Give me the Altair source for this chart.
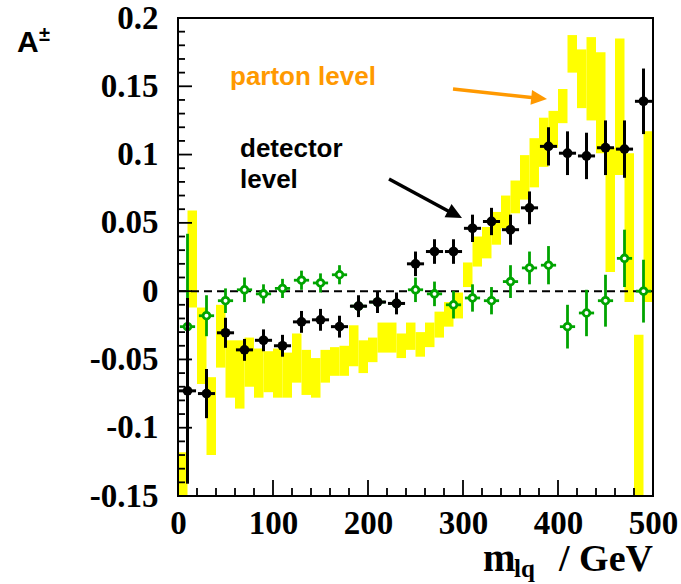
import altair as alt
import pandas as pd

# ---- reconstructed asymmetry per 20 GeV bin of m_lq ----
m_centres = [10, 30, 50, 70, 90, 110, 130, 150, 170, 190, 210, 230, 250,
             270, 290, 310, 330, 350, 370, 390, 410, 430, 450, 470, 490]

det_A = [-0.073, -0.075, -0.0305, -0.043, -0.036, -0.040, -0.0225, -0.021, -0.026,
         -0.011, -0.008, -0.009, 0.020, 0.029, 0.029, 0.046, 0.051, 0.045, 0.061,
         0.106, 0.101, 0.099, 0.105, 0.104, 0.139]
det_err = [0.068, 0.018, 0.011, 0.008, 0.008, 0.008, 0.008, 0.008, 0.008, 0.008,
           0.008, 0.008, 0.009, 0.009, 0.009, 0.010, 0.010, 0.011, 0.012, 0.014,
           0.016, 0.017, 0.020, 0.021, 0.024]

green_A = [-0.026, -0.018, -0.007, 0.001, -0.002, 0.002, 0.008, 0.006, 0.012,
           -0.011, -0.008, -0.009, 0.001, -0.002, -0.010, -0.005, -0.007, 0.007,
           0.017, 0.019, -0.026, -0.016, -0.007, 0.024, 0.000]
green_err = [0.068, 0.015, 0.009, 0.009, 0.007, 0.007, 0.007, 0.007, 0.007, 0.007,
             0.007, 0.007, 0.009, 0.009, 0.010, 0.010, 0.010, 0.012, 0.012, 0.014,
             0.016, 0.017, 0.019, 0.021, 0.023]

# ---- parton-level band, 10 GeV bins (lower / upper edge of the band) ----
parton_edges = list(range(0, 510, 10))
parton_lo = [-0.16, -0.012, -0.068, -0.120, -0.056, -0.078, -0.086, -0.070, -0.078, -0.074,
             -0.078, -0.078, -0.067, -0.076, -0.078, -0.067, -0.062, -0.062, -0.055, -0.060,
             -0.052, -0.045, -0.045, -0.049, -0.043, -0.048, -0.041, -0.034, -0.026, -0.020,
             0.003, 0.018, 0.024, 0.034, 0.046, 0.057, 0.067, 0.076, 0.091, 0.105,
             0.123, 0.160, 0.134, 0.125, 0.101, 0.014, 0.085, -0.008, -0.16, -0.008]
parton_hi = [-0.118, 0.059, -0.012, -0.063, -0.010, -0.036, -0.036, -0.034, -0.042, -0.044,
             -0.042, -0.045, -0.031, -0.043, -0.049, -0.043, -0.041, -0.040, -0.025, -0.036,
             -0.034, -0.023, -0.023, -0.031, -0.023, -0.030, -0.023, -0.015, -0.008, -0.001,
             0.021, 0.040, 0.047, 0.058, 0.070, 0.081, 0.0996, 0.112, 0.127, 0.132,
             0.148, 0.1875, 0.177, 0.186, 0.175, 0.105, 0.185, 0.101, -0.032, 0.117]

# ---- axis ticks ----
x_labels = [0, 100, 200, 300, 400, 500]
x_minor = [v for v in range(0, 501, 20) if v % 100 != 0]
y_labels = [-0.15, -0.1, -0.05, 0, 0.05, 0.1, 0.15, 0.2]
y_minor = [round(i * 0.01, 2) for i in range(-15, 21) if i % 5 != 0]

W, H = 475, 478
GREEN = "#00A400"
ORANGE = "#FF9900"
SERIF = "Liberation Serif"
SANS = "Liberation Sans"

xs = alt.Scale(domain=[0, 500], nice=False, zero=False)
ys = alt.Scale(domain=[-0.15, 0.2], nice=False, zero=False)

band_df = pd.DataFrame({
    "x0": parton_edges[:-1], "x1": parton_edges[1:],
    "lo": parton_lo, "hi": parton_hi,
})


def point_table(values, errors, half):
    return pd.DataFrame({
        "m": m_centres, "A": values,
        "lo": [a - e for a, e in zip(values, errors)],
        "hi": [a + e for a, e in zip(values, errors)],
        "ml": [m - half for m in m_centres], "mr": [m + half for m in m_centres],
    })


det_df = point_table(det_A, det_err, 9)
grn_df = point_table(green_A, green_err, 8)

x_axis = alt.Axis(values=x_labels, ticks=False, domain=False, grid=False,
                  labelFont=SERIF, labelFontWeight="bold", labelFontSize=33,
                  labelColor="black", labelPadding=11, labelFlush=False,
                  labelOverlap=False, title=None)
y_axis = alt.Axis(values=y_labels, ticks=False, domain=False, grid=False,
                  labelFont=SERIF, labelFontWeight="bold", labelFontSize=33,
                  labelColor="black", labelPadding=20, labelOverlap=False,
                  labelExpr="toString(datum.value)", title=None)

band = alt.Chart(band_df).mark_rect(color="#FFFF00", clip=True).encode(
    x=alt.X("x0:Q", scale=xs, axis=x_axis), x2="x1",
    y=alt.Y("lo:Q", scale=ys, axis=y_axis), y2="hi",
)

zero = alt.Chart(pd.DataFrame({"a": [0], "b": [500], "z": [0]})).mark_rule(
    color="black", strokeWidth=2, strokeDash=[8, 5]
).encode(x=alt.X("a:Q", scale=xs), x2="b", y=alt.Y("z:Q", scale=ys))


def points(df, color, marker, lw):
    vbar = alt.Chart(df).mark_rule(color=color, strokeWidth=lw, clip=True).encode(
        x=alt.X("m:Q", scale=xs), y=alt.Y("lo:Q", scale=ys), y2="hi")
    hbar = alt.Chart(df).mark_rule(color=color, strokeWidth=lw).encode(
        x=alt.X("ml:Q", scale=xs), x2="mr", y=alt.Y("A:Q", scale=ys))
    dot = alt.Chart(df).mark_point(**marker).encode(
        x=alt.X("m:Q", scale=xs), y=alt.Y("A:Q", scale=ys))
    return [vbar, hbar, dot]


green_layers = points(grn_df, GREEN, dict(shape="circle", filled=True, fill="white",
                                          stroke=GREEN, strokeWidth=2.8, size=45,
                                          opacity=1), 2.8)
det_layers = points(det_df, "black", dict(shape="circle", filled=True, color="black",
                                          size=95, opacity=1), 3)


# inward tick marks on the left and bottom edges
def x_ticks(values, length):
    return alt.Chart(pd.DataFrame({"v": values})).mark_rule(
        color="black", strokeWidth=1.8
    ).encode(x=alt.X("v:Q", scale=xs), y=alt.value(H), y2=alt.value(H - length))


def y_ticks(values, length):
    return alt.Chart(pd.DataFrame({"v": values})).mark_rule(
        color="black", strokeWidth=1.8
    ).encode(y=alt.Y("v:Q", scale=ys), x=alt.value(0), x2=alt.value(length))


ticks = [x_ticks(x_labels, 16), x_ticks(x_minor, 8),
         y_ticks(y_labels, 14), y_ticks(y_minor, 7)]

# frame around the plotting area
frame = alt.Chart(pd.DataFrame({"k": [0]})).mark_rect(
    filled=False, stroke="black", strokeWidth=2
).encode(x=alt.value(0), x2=alt.value(W), y=alt.value(0), y2=alt.value(H))


def label(txt, x, y, size, color="black", font=SANS, weight="bold", align="left"):
    return alt.Chart(pd.DataFrame({"t": [txt]})).mark_text(
        font=font, fontSize=size, fontWeight=weight, color=color,
        align=align, baseline="alphabetic"
    ).encode(text="t:N", x=alt.value(x), y=alt.value(y))


def arrow(x0, y0, x1, y1, tip_x, tip_y, angle, color, width, size):
    line = alt.Chart(pd.DataFrame({"k": [0]})).mark_rule(
        color=color, strokeWidth=width
    ).encode(x=alt.value(x0), y=alt.value(y0), x2=alt.value(x1), y2=alt.value(y1))
    head = alt.Chart(pd.DataFrame({"k": [0]})).mark_point(
        shape="M 0 0 L -1 -0.47 L -1 0.47 Z", filled=True, color=color,
        size=size, angle=angle, opacity=1
    ).encode(x=alt.value(tip_x), y=alt.value(tip_y))
    return [line, head]


texts = [
    label("parton level", 52, 67, 26, ORANGE),
    label("detector", 62, 139, 26),
    label("level", 62, 170, 26),
    label("A", -161, 34, 30),
    label("±", -139, 23, 20),
    label("m", 305, 553, 39, font=SERIF),
    label("lq", 336, 559, 25, font=SERIF),
    label("/ GeV", W, 553, 38, font=SERIF, align="right"),
]
arrows = (arrow(275, 71, 358, 80, 369, 81, 6, ORANGE, 3.5, 1000)
          + arrow(211, 161, 272, 194, 284, 200, 28, "black", 3.5, 1000))

chart = alt.layer(
    band, zero, *green_layers, *det_layers, *ticks, frame, *arrows, *texts
).properties(
    width=W, height=H,
    autosize=alt.AutoSizeParams(type="none"),
    padding={"left": 178, "top": 18, "right": 28, "bottom": 88},
).configure_view(
    strokeWidth=0
).configure(background="white")

chart.save("out.html", embed_options={"renderer": "svg", "actions": False})
